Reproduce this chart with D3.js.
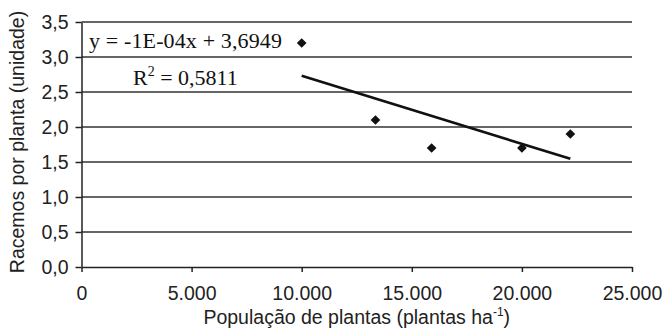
<!DOCTYPE html>
<html>
<head>
<meta charset="utf-8">
<script src="https://cdn.jsdelivr.net/npm/d3@7"></script>
<style>
  body { margin: 0; background: #fff; }
  svg { display: block; }
  .tick text { font-family: "Liberation Sans", Arial, sans-serif; font-size: 19.5px; fill: #222; }
  .title { font-family: "Liberation Sans", Arial, sans-serif; font-size: 19.5px; fill: #222; }
  .eq { font-family: "Liberation Serif", "Times New Roman", serif; font-size: 22px; fill: #111; }
</style>
</head>
<body>
<svg id="chart" width="663" height="331"></svg>
<script>
// population (plants/ha) and racemes per plant
const populacao = [10000, 13350, 15900, 20000, 22200];
const racemos = [3.2, 2.1, 1.7, 1.7, 1.9];
const xTicks = [0, 5000, 10000, 15000, 20000, 25000];
const yTicks = [0, 0.5, 1, 1.5, 2, 2.5, 3, 3.5];
const equationText = 'y = -1E-04x + 3,6949';
const r2Value = '0,5811';

const margin = { left: 81.5, right: 31, top: 22, bottom: 64 };
const width = 663, height = 331;

const svg = d3.select('#chart');

let x = d3.scaleLinear().domain([0, 25000]).range([margin.left, width - margin.right]);
let y = d3.scaleLinear().domain([0, 3.5]).range([height - margin.bottom, margin.top]);

const fmtX = d3.formatLocale({ decimal: ',', thousands: '.', grouping: [3], currency: ['', ''] }).format(',d');
const fmtY = v => d3.format('.1f')(v).replace('.', ',');

// gridlines
svg.append('g')
    .selectAll('line')
    .data(yTicks.filter(d => d > 0))
    .join('line')
    .attr('x1', x(0)).attr('x2', x(25000))
    .attr('y1', d => y(d)).attr('y2', d => y(d))
    .attr('stroke', '#333').attr('stroke-width', 1.3);

// axes
let xAxis = d3.axisBottom(x).tickValues(xTicks).tickFormat(fmtX).tickSize(5).tickSizeOuter(0);
let gx = svg.append('g').attr('transform', 'translate(0,' + y(0) + ')').call(xAxis);
gx.select('.domain').attr('stroke', '#222').attr('stroke-width', 1.5);
gx.selectAll('.tick line').attr('stroke', '#222').attr('stroke-width', 1.5);
gx.selectAll('.tick text').attr('dy', '0').attr('y', 33);

let yAxis = d3.axisLeft(y).tickValues(yTicks).tickFormat(fmtY).tickSize(6).tickSizeOuter(0);
let gy = svg.append('g').attr('transform', 'translate(' + x(0) + ',0)').call(yAxis);
gy.select('.domain').attr('stroke', '#222').attr('stroke-width', 1.5);
gy.selectAll('.tick line').attr('stroke', '#222').attr('stroke-width', 1.5);
gy.selectAll('.tick text').attr('x', -13).attr('dy', '0.35em');

// least squares trend line from the points
let mx = d3.mean(populacao), my = d3.mean(racemos);
let sxy = d3.sum(populacao, (v, i) => (v - mx) * (racemos[i] - my));
let sxx = d3.sum(populacao, v => (v - mx) * (v - mx));
let slope = sxy / sxx, intercept = my - slope * mx;
let xr = d3.extent(populacao);

svg.append('path')
    .datum(xr)
    .attr('d', d3.line().x(d => x(d)).y(d => y(intercept + slope * d)))
    .attr('stroke', '#111').attr('stroke-width', 2.7).attr('fill', 'none');

// points
svg.append('g')
    .selectAll('path')
    .data(populacao)
    .join('path')
    .attr('transform', (d, i) => 'translate(' + x(d) + ',' + y(racemos[i]) + ')')
    .attr('d', d3.symbol().type(d3.symbolDiamond2).size(60))
    .attr('fill', '#111');

// equation labels
svg.append('text').attr('class', 'eq').attr('x', 89).attr('y', 48)
    .attr('textLength', 193).attr('lengthAdjust', 'spacing')
    .text(equationText);
let r2 = svg.append('text').attr('class', 'eq').attr('x', 133).attr('y', 85);
r2.append('tspan').text('R');
r2.append('tspan').attr('font-size', '14px').attr('dy', -9).text('2');
r2.append('tspan').attr('dy', 9).text(' = ' + r2Value);

// axis titles
let xt = svg.append('text').attr('class', 'title')
    .attr('x', (x(0) + x(25000)) / 2).attr('y', 324).attr('text-anchor', 'middle');
xt.append('tspan').text('População de plantas (plantas ha');
xt.append('tspan').attr('font-size', '12px').attr('dy', -8).text('-1');
xt.append('tspan').attr('dy', 8).text(')');

svg.append('text').attr('class', 'title')
    .attr('transform', 'translate(24,142) rotate(-90)')
    .attr('text-anchor', 'middle')
    .text('Racemos por planta (unidade)');
</script>
</body>
</html>
